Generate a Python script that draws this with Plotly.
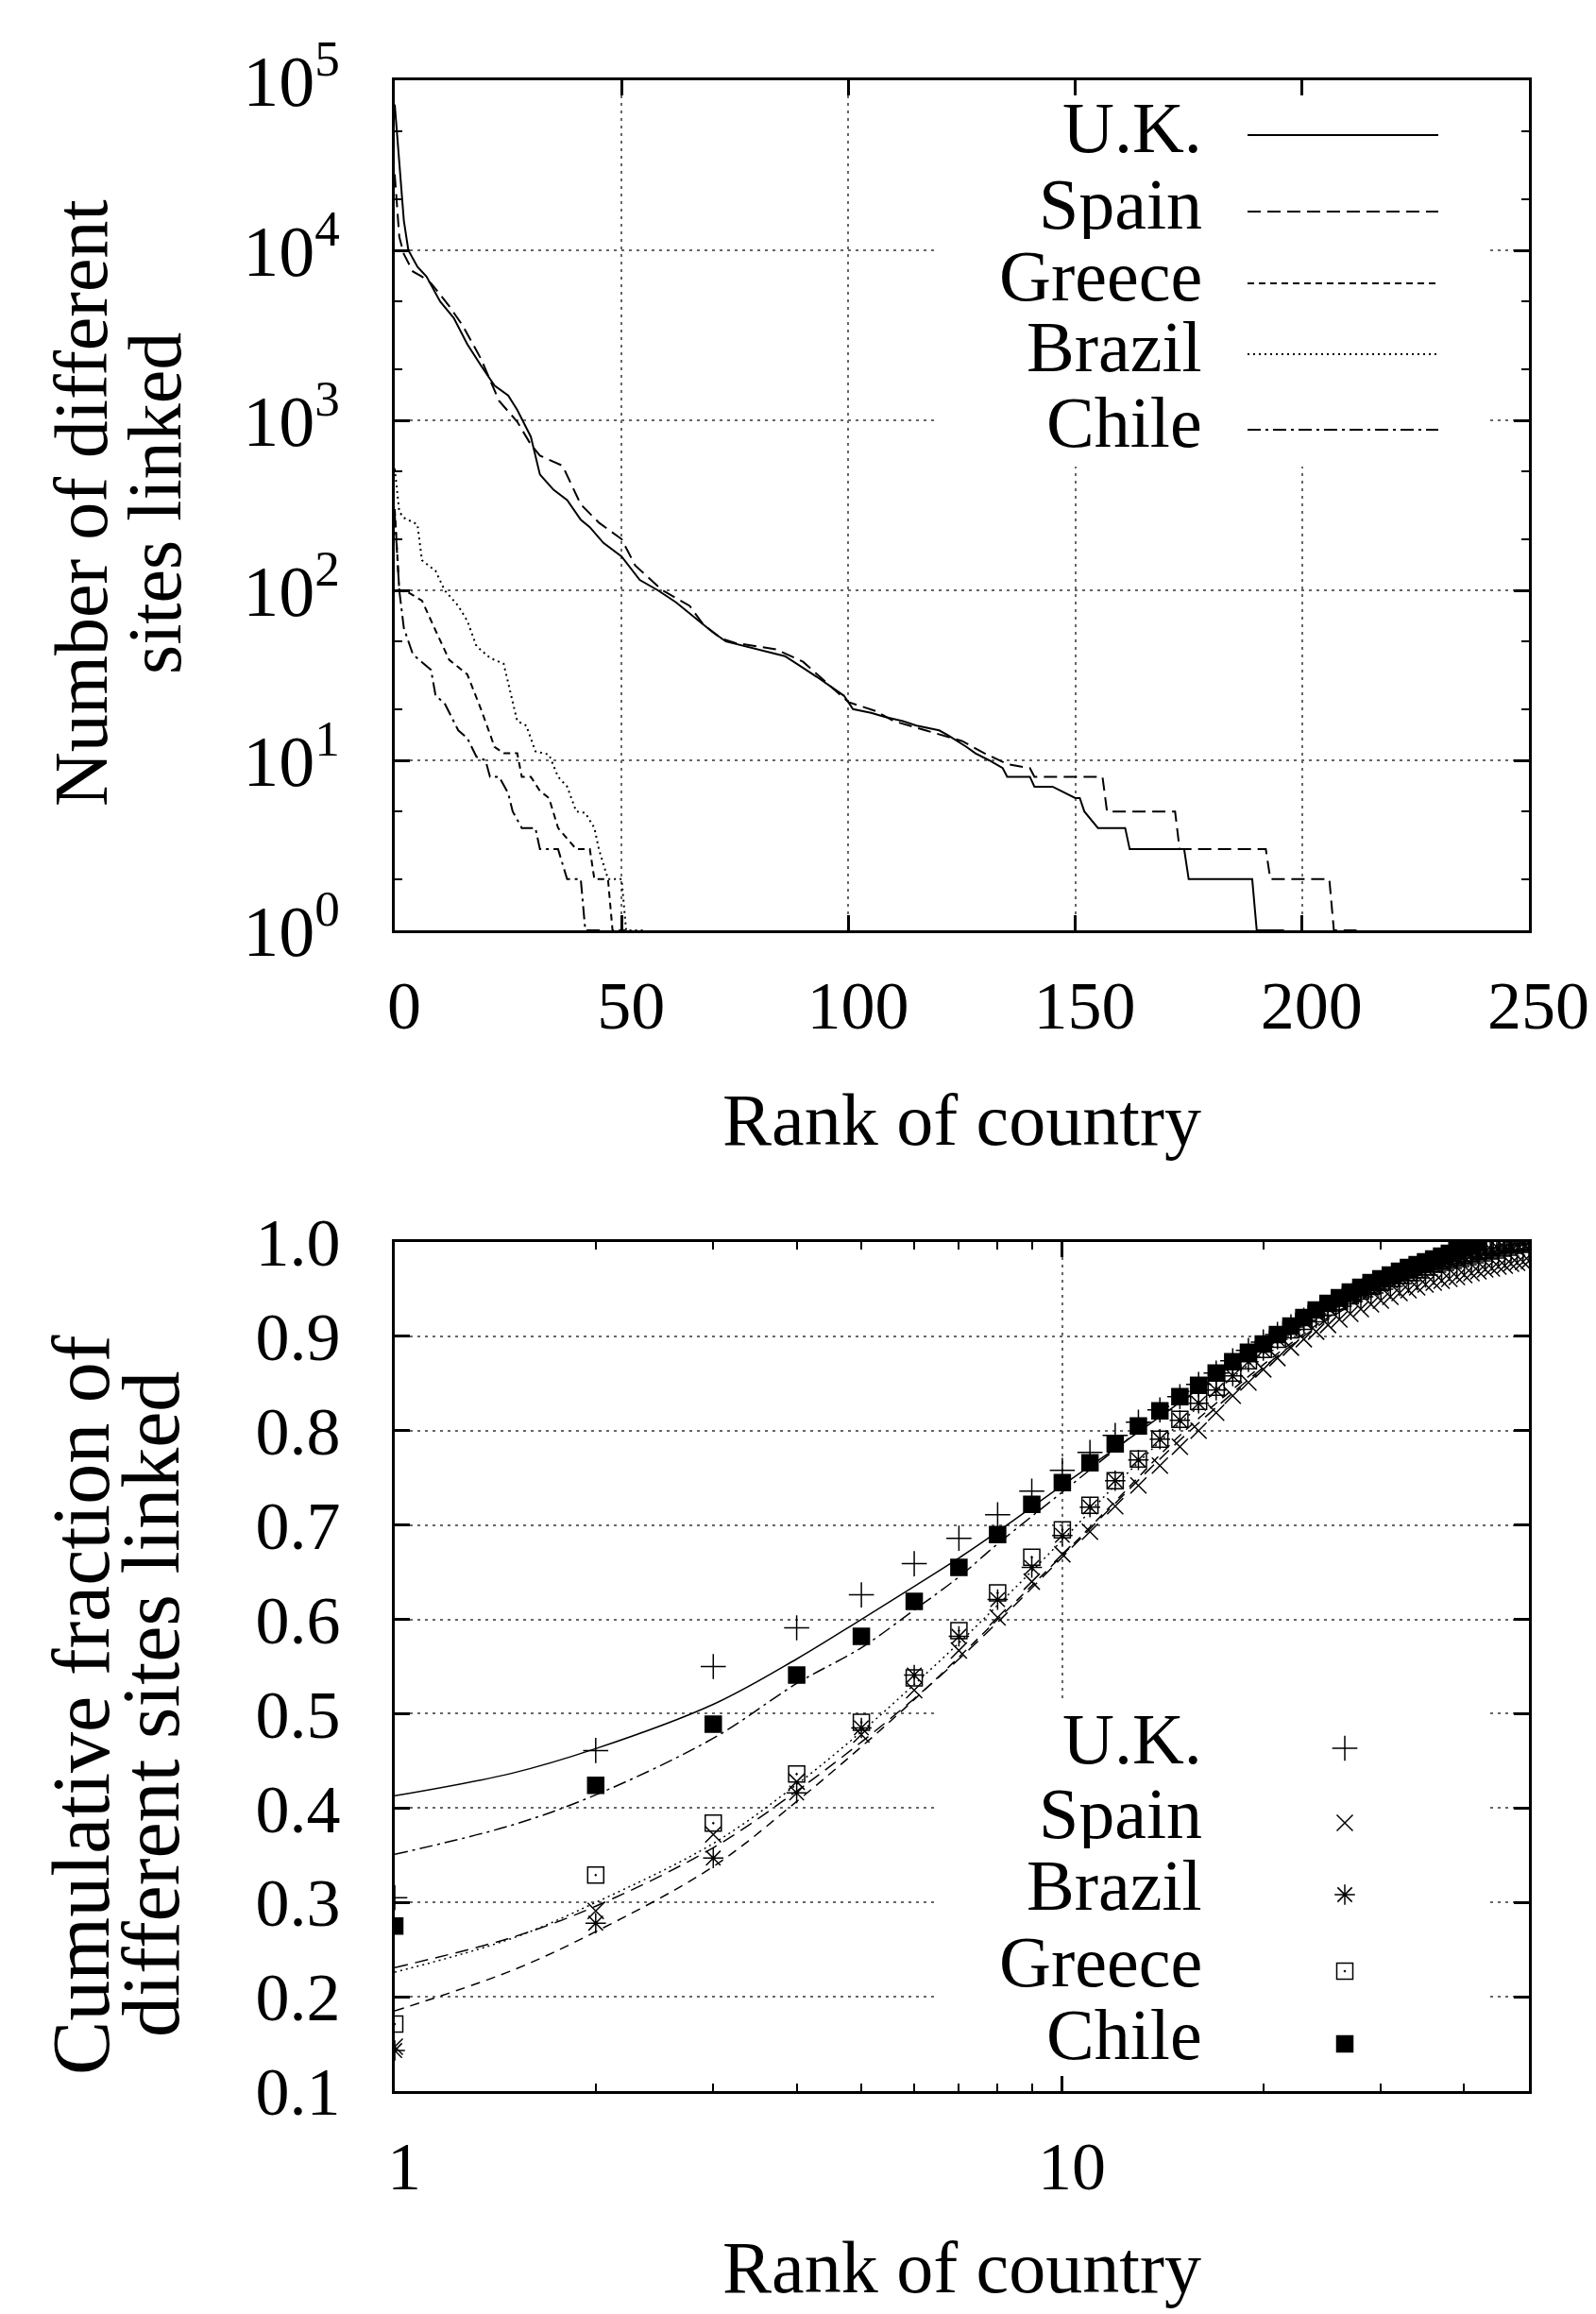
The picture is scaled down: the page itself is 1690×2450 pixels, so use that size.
import plotly.graph_objects as go

# ---------------- data: top panel (rank vs number of sites) ----------------
uk_rank = [0, 1, 2, 3, 5, 7, 10, 13, 16, 19, 22, 25, 27, 30, 32, 35, 38, 41, 43, 46, 50, 54, 58, 62,
           66, 70, 73, 77, 81, 86, 90, 93, 99, 101, 105, 108, 112, 115, 120, 122, 126, 128, 131,
           134, 135, 140, 141, 145, 150, 151, 152, 155, 161, 162, 174, 175, 189, 190, 196]
uk_sites = [72000, 33000, 15000, 10000, 8000, 7000, 5000, 4000, 2800, 2100, 1600, 1400, 1150, 800,
            480, 390, 340, 260, 235, 190, 158, 115, 100, 85, 70, 57, 50, 47, 44, 41, 35, 31, 24, 20,
            19, 18, 17, 16, 15, 14, 12, 11, 10, 9, 8, 8, 7, 7, 6, 6, 5, 4, 4, 3, 3, 2, 2, 1, 1]

es_rank = [0, 1, 2, 4, 6, 8, 12, 15, 19, 23, 27, 30, 32, 37, 41, 45, 50, 53, 59, 65, 68, 72, 75,
           84, 90, 97, 100, 106, 110, 117, 125, 130, 135, 140, 141, 156, 157, 172, 173, 192, 193,
           206, 207, 212]
es_sites = [28000, 12000, 9500, 7500, 7000, 6400, 4700, 3600, 2300, 1300, 980, 720, 620, 540, 320,
            250, 200, 140, 100, 81, 63, 52, 49, 45, 38, 26, 22, 19.5, 17, 15, 13, 11, 9.5, 9, 8, 8,
            5, 5, 3, 3, 2, 2, 1, 1]

gr_rank = [0, 1, 3, 6, 9, 12, 16, 19, 22, 24, 27, 28, 30, 32, 34, 36, 40, 43, 44, 47, 48, 52]
gr_sites = [300, 100, 97, 87, 58, 39, 32, 20, 12, 11, 11, 8, 8, 6.6, 6, 4, 3, 3, 2, 2, 1, 1]

br_rank = [0, 1, 2, 4, 5, 6, 9, 11, 14, 16, 18, 21, 24, 27, 29, 31, 34, 36, 38, 40, 42, 44, 45,
           47, 50, 51, 55]
br_sites = [520, 290, 267, 250, 244, 150, 130, 100, 81, 66, 47, 40, 37, 17, 16, 11.3, 10.8, 8, 7,
            5, 4.9, 4, 3, 2, 2, 1, 1]

cl_rank = [0, 1, 2, 4, 8, 9, 11, 14, 16, 18, 20, 21, 23, 25, 26, 28, 31, 32, 36, 38, 41, 42, 46]
cl_sites = [280, 100, 60, 42, 34, 24, 21.6, 15, 13.5, 10.5, 10, 8, 8, 6.4, 5, 4, 4, 3, 3, 2, 2, 1, 1]

# ---------------- data: bottom panel (cumulative fraction) ----------------
ranks = list(range(1, 51))
uk_cum = [0.305, 0.461, 0.550, 0.591, 0.626, 0.659, 0.686, 0.711, 0.736, 0.758, 0.777, 0.795, 0.809,
          0.822, 0.836, 0.849, 0.861, 0.874, 0.885, 0.894, 0.902, 0.910, 0.917, 0.922, 0.927, 0.932,
          0.937, 0.942, 0.946, 0.950, 0.953, 0.956, 0.959, 0.962, 0.965, 0.968, 0.970, 0.972, 0.974,
          0.976, 0.978, 0.980, 0.982, 0.983, 0.985, 0.986, 0.988, 0.989, 0.990, 0.991]
es_cum = [0.147, 0.291, 0.372, 0.428, 0.478, 0.525, 0.567, 0.602, 0.640, 0.669, 0.693, 0.720, 0.742,
          0.763, 0.783, 0.800, 0.819, 0.837, 0.851, 0.865, 0.877, 0.888, 0.897, 0.905, 0.912, 0.918,
          0.924, 0.929, 0.934, 0.938, 0.942, 0.946, 0.949, 0.952, 0.955, 0.957, 0.959, 0.961, 0.963,
          0.965, 0.967, 0.969, 0.971, 0.972, 0.974, 0.975, 0.977, 0.978, 0.979, 0.980]
br_cum = [0.143, 0.278, 0.347, 0.416, 0.485, 0.541, 0.582, 0.621, 0.655, 0.689, 0.719, 0.747, 0.769,
          0.791, 0.811, 0.829, 0.843, 0.858, 0.873, 0.885, 0.897, 0.907, 0.916, 0.924, 0.931, 0.937,
          0.942, 0.947, 0.951, 0.955, 0.959, 0.963, 0.966, 0.969, 0.972, 0.975, 0.978, 0.980, 0.982,
          0.984, 0.986, 0.988, 0.990, 0.991, 0.993, 0.994, 0.996, 0.997, 0.998, 0.999]
gr_cum = [0.171, 0.329, 0.384, 0.436, 0.491, 0.538, 0.588, 0.628, 0.666, 0.695, 0.721, 0.747, 0.770,
          0.791, 0.812, 0.831, 0.846, 0.861, 0.874, 0.886, 0.897, 0.907, 0.916, 0.924, 0.931, 0.937,
          0.943, 0.948, 0.953, 0.957, 0.961, 0.965, 0.968, 0.971, 0.974, 0.977, 0.980, 0.982, 0.984,
          0.986, 0.988, 0.990, 0.992, 0.994, 0.996, 0.997, 0.999, 1.0]
cl_cum = [0.275, 0.424, 0.489, 0.541, 0.582, 0.619, 0.655, 0.690, 0.722, 0.745, 0.766, 0.786, 0.805,
          0.821, 0.836, 0.848, 0.861, 0.873, 0.883, 0.892, 0.902, 0.911, 0.920, 0.928, 0.935, 0.941,
          0.947, 0.952, 0.957, 0.961, 0.965, 0.969, 0.973, 0.976, 0.979, 0.982, 0.985, 0.988, 0.991,
          0.994, 0.997, 1.0]

fit_rank = [1, 1.5, 2, 3, 4, 5, 6, 7, 8, 10, 12, 15, 20, 25, 30, 40, 50]
uk_fit = [0.413, 0.437, 0.463, 0.510, 0.558, 0.600, 0.635, 0.665, 0.693, 0.742, 0.781, 0.830, 0.892,
          0.931, 0.955, 0.982, 0.993]
es_fit = [0.185, 0.228, 0.269, 0.338, 0.407, 0.465, 0.515, 0.560, 0.600, 0.668, 0.725, 0.795, 0.870,
          0.920, 0.950, 0.980, 0.992]
br_fit = [0.231, 0.263, 0.296, 0.358, 0.418, 0.470, 0.516, 0.558, 0.597, 0.666, 0.723, 0.790, 0.867,
          0.918, 0.949, 0.980, 0.992]
gr_fit = [0.226, 0.262, 0.300, 0.3625, 0.425, 0.481, 0.531, 0.575, 0.615, 0.684, 0.742, 0.808, 0.882,
          0.929, 0.957, 0.984, 0.994]
cl_fit = [0.351, 0.382, 0.414, 0.474, 0.532, 0.570, 0.610, 0.645, 0.680, 0.735, 0.780, 0.835, 0.895,
          0.935, 0.960, 0.985, 0.995]

countries_top = ["U.K.", "Spain", "Greece", "Brazil", "Chile"]
countries_bottom = ["U.K.", "Spain", "Brazil", "Greece", "Chile"]
y_top_ticks = [1, 10, 100, 1000, 10000, 100000]
y_top_text = ["10<sup>0</sup>", "10<sup>1</sup>", "10<sup>2</sup>", "10<sup>3</sup>",
              "10<sup>4</sup>", "10<sup>5</sup>"]
x_top_ticks = [0, 50, 100, 150, 200, 250]
y_bot_ticks = [0.1, 0.2, 0.3, 0.4, 0.5, 0.6, 0.7, 0.8, 0.9, 1.0]
x_bot_ticks = [1, 10]

# ---------------- styling ----------------
FONT = "Liberation Serif"
W, H = 1690, 2450
dash_top = {"U.K.": "solid", "Spain": "14px,7px", "Greece": "7px,5px", "Brazil": "2px,4px",
            "Chile": "14px,5px,3px,5px"}
dash_bot = {"U.K.": "solid", "Spain": "10px,7px", "Brazil": "14px,8px", "Greece": "2px,4px",
            "Chile": "14px,5px,3px,5px"}
sym = {"U.K.": "cross-thin-open", "Spain": "x-thin-open", "Brazil": "asterisk-open",
       "Greece": "square-open-dot", "Chile": "square"}
msize = {"U.K.": 19, "Spain": 17, "Brazil": 18, "Greece": 17, "Chile": 17}

# pixel geometry of the two frames
L, R = 418, 1619
T1, B1 = 85, 985
T2, B2 = 1315, 2214

fig = go.Figure()

top_series = {"U.K.": (uk_rank, uk_sites), "Spain": (es_rank, es_sites),
              "Greece": (gr_rank, gr_sites), "Brazil": (br_rank, br_sites),
              "Chile": (cl_rank, cl_sites)}
for name in countries_top:
    xs, ys = top_series[name]
    fig.add_trace(go.Scatter(x=xs, y=ys, mode="lines", xaxis="x", yaxis="y", showlegend=False,
                             line=dict(color="black", width=2, dash=dash_top[name])))

bot_pts = {"U.K.": uk_cum, "Spain": es_cum, "Brazil": br_cum, "Greece": gr_cum, "Chile": cl_cum}
bot_fit = {"U.K.": uk_fit, "Spain": es_fit, "Brazil": br_fit, "Greece": gr_fit, "Chile": cl_fit}
for name in countries_bottom:
    fig.add_trace(go.Scatter(x=fit_rank, y=bot_fit[name], mode="lines", xaxis="x2", yaxis="y2",
                             showlegend=False, line=dict(color="black", width=1.5,
                                                         dash=dash_bot[name], shape="spline")))
for name in countries_bottom:
    vals = bot_pts[name]
    fig.add_trace(go.Scatter(x=ranks[:len(vals)], y=vals, mode="markers", xaxis="x2", yaxis="y2",
                             showlegend=False,
                             marker=dict(symbol=sym[name], size=msize[name], color="black",
                                         line=dict(color="black", width=1.5))))

# legend samples on overlay axes with [0,1] ranges
top_rows = [(985 - y) / 900 for y in (143, 224, 300, 375, 455)]
bot_rows = [(2214 - y) / 899 for y in (1851, 1930, 2006, 2087, 2164)]
TXT_SHIFT_TOP = 8 / 900
TXT_SHIFT_BOT = 10 / 899
for i, name in enumerate(countries_top):
    fig.add_trace(go.Scatter(x=[(1321 - L) / (R - L), (1523 - L) / (R - L)],
                             y=[top_rows[i], top_rows[i]], mode="lines", xaxis="x3", yaxis="y3",
                             showlegend=False,
                             line=dict(color="black", width=2, dash=dash_top[name])))
    fig.add_annotation(x=(1275 - L) / (R - L), y=top_rows[i] + TXT_SHIFT_TOP, xref="x3", yref="y3",
                       text=name, showarrow=False, xanchor="right", yanchor="middle", height=74,
                       font=dict(family=FONT, size=76, color="black"))
for i, name in enumerate(countries_bottom):
    fig.add_trace(go.Scatter(x=[(1424 - L) / (R - L)], y=[bot_rows[i]], mode="markers",
                             xaxis="x4", yaxis="y4", showlegend=False,
                             marker=dict(symbol=sym[name], size=msize[name], color="black",
                                         line=dict(color="black", width=1.5))))
    fig.add_annotation(x=(1275 - L) / (R - L), y=bot_rows[i] + TXT_SHIFT_BOT, xref="x4", yref="y4",
                       text=name, showarrow=False, xanchor="right", yanchor="middle", height=74,
                       font=dict(family=FONT, size=76, color="black"))

# white key boxes hiding the grid (data coordinates of the subplots)
fig.add_shape(type="rect", xref="x", yref="y", x0=119, x1=241, y0=534, y1=100000,
              fillcolor="white", line=dict(width=0), layer="between")
fig.add_shape(type="rect", xref="x2", yref="y2", x0=6.47, x1=43.2, y0=0.1, y1=0.5145,
              fillcolor="white", line=dict(width=0), layer="between")

xdom = [L / W, R / W]
ydom1 = [1 - B1 / H, 1 - T1 / H]
ydom2 = [1 - B2 / H, 1 - T2 / H]

common = dict(showline=True, linecolor="black", linewidth=3, mirror="allticks", ticks="inside",
              ticklen=16, tickwidth=2.5, tickcolor="black", zeroline=False, automargin=False,
              gridcolor="#666666", griddash="3px,5px", gridwidth=1.5)
tick_font = dict(family=FONT, size=72, color="black")

fig.update_layout(
    width=W, height=H, autosize=False,
    margin=dict(l=0, r=0, t=0, b=0, pad=0, autoexpand=False),
    paper_bgcolor="white", plot_bgcolor="white", showlegend=False,
    xaxis=dict(domain=xdom, anchor="y", range=[0, 250], tickmode="array", tickvals=x_top_ticks,
               ticktext=[str(v) for v in x_top_ticks], ticklabelstandoff=15, ticklabelshift=10,
               tickfont=tick_font, **common),
    yaxis=dict(domain=ydom1, anchor="x", type="log", range=[0, 5], tickmode="array",
               tickvals=y_top_ticks, ticktext=y_top_text, ticklabelstandoff=40,
               tickfont=dict(family=FONT, size=76, color="black"),
               minor=dict(ticks="inside", ticklen=8, tickwidth=2, tickcolor="black",
                          tickvals=[2, 5, 20, 50, 200, 500, 2000, 5000, 20000, 50000],
                          showgrid=False),
               **common),
    xaxis2=dict(domain=xdom, anchor="y2", type="log", range=[0, 1.69897], tickmode="array",
                tickvals=x_bot_ticks, ticktext=["1", "10"], ticklabelstandoff=15,
                ticklabelshift=10, tickfont=tick_font,
                minor=dict(ticks="inside", ticklen=8, tickwidth=2, tickcolor="black",
                           tickvals=[2, 3, 4, 5, 6, 7, 8, 9, 20, 30, 40], showgrid=False),
                **common),
    yaxis2=dict(domain=ydom2, anchor="x2", range=[0.1, 1.0], tickmode="array",
                tickvals=y_bot_ticks, ticktext=["%.1f" % v for v in y_bot_ticks],
                ticklabelstandoff=40, tickfont=tick_font, **common),
    xaxis3=dict(domain=xdom, anchor="y3", range=[0, 1], visible=False, overlaying="x"),
    yaxis3=dict(domain=ydom1, anchor="x3", range=[0, 1], visible=False, overlaying="y"),
    xaxis4=dict(domain=xdom, anchor="y4", range=[0, 1], visible=False, overlaying="x2"),
    yaxis4=dict(domain=ydom2, anchor="x4", range=[0, 1], visible=False, overlaying="y2"),
)

# axis titles
fig.add_annotation(x=(L + R) / 2 / W, y=1 - 1140 / H, xref="paper", yref="paper",
                   text="Rank of country", showarrow=False, xanchor="center", yanchor="top",
                   font=dict(family=FONT, size=78, color="black"))
fig.add_annotation(x=(L + R) / 2 / W, y=1 - 2355 / H, xref="paper", yref="paper",
                   text="Rank of country", showarrow=False, xanchor="center", yanchor="top",
                   font=dict(family=FONT, size=78, color="black"))
for xc, txt in ((86, "Number of different"), (164, "sites linked")):
    fig.add_annotation(x=xc / W, y=1 - 533 / H, xref="paper", yref="paper", text=txt,
                       textangle=-90, showarrow=False, xanchor="center", yanchor="middle",
                       height=76, font=dict(family=FONT, size=80, color="black"))
for xc, txt in ((86, "Cumulative fraction of"), (160, "different sites linked")):
    fig.add_annotation(x=xc / W, y=1 - 1805 / H, xref="paper", yref="paper", text=txt,
                       textangle=-90, showarrow=False, xanchor="center", yanchor="middle",
                       height=72, font=dict(family=FONT, size=86, color="black"))

fig.write_html("out.html", config={"displayModeBar": False},
               post_script="document.body.style.margin='0';")
